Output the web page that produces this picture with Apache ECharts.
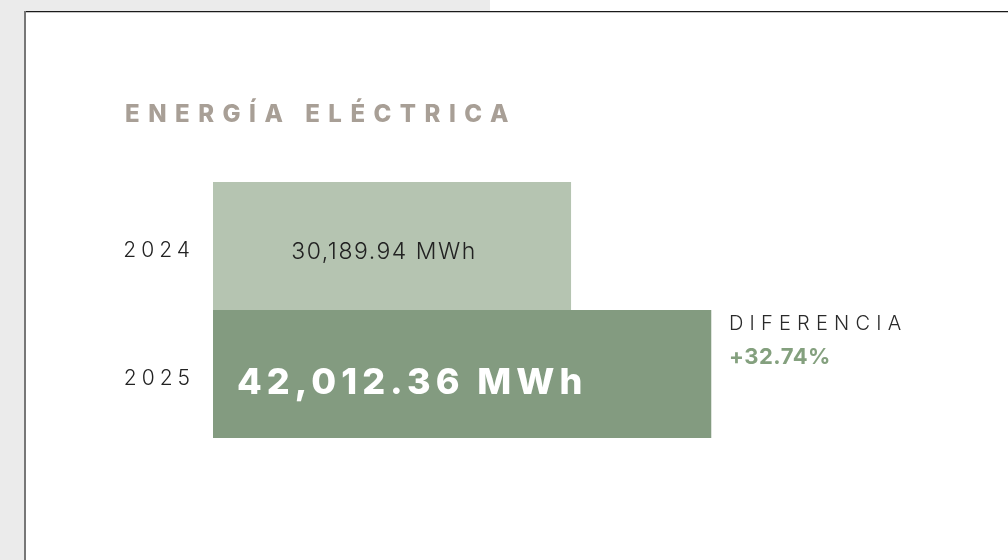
<!DOCTYPE html>
<html>
<head>
<meta charset="utf-8">
<script src="https://cdn.jsdelivr.net/npm/echarts@6/dist/echarts.min.js"></script>
<style>
html,body{margin:0;padding:0;background:#fff;}
#chart{width:1008px;height:560px;}
</style>
</head>
<body>
<div id="chart"></div>
<script>
// ---- data ----
const titleText = 'ENERGÍA ELÉCTRICA';
const categories = ['2024', '2025'];
const values = [30189.94, 42012.36];
const unit = 'MWh';
const diffTitle = 'DIFERENCIA';
const diffValue = '+32.74%';
const barColors = ['#b5c4b1', '#839b80'];

function fmt(v) {
  return v.toLocaleString('en-US', {minimumFractionDigits: 2, maximumFractionDigits: 2}) + ' ' + unit;
}

// letter spacing per text (canvas letterSpacing)
const SPACING = {};
SPACING[titleText] = 8.5;
categories.forEach(c => SPACING[c] = 5);
SPACING[diffTitle] = 6.2;
SPACING[fmt(values[0])] = 1.5;
SPACING[fmt(values[1])] = 5;
SPACING[diffValue] = 0.5;
const origFill = CanvasRenderingContext2D.prototype.fillText;
CanvasRenderingContext2D.prototype.fillText = function (t, x, y, w) {
  const s = SPACING[t];
  let prev;
  const has = s != null && ('letterSpacing' in this);
  if (has) { prev = this.letterSpacing; this.letterSpacing = s + 'px'; }
  const r = (w === undefined) ? origFill.call(this, t, x, y) : origFill.call(this, t, x, y, w);
  if (has) { this.letterSpacing = prev; }
  return r;
};

const FONT = 'Inter, "Noto Sans", sans-serif';
const chart = echarts.init(document.getElementById('chart'), null, {renderer: 'canvas'});

const option = {
  backgroundColor: '#ffffff',
  animation: false,
  graphic: [
    {type: 'rect', z: -10, shape: {x: 0, y: 0, width: 490, height: 11}, style: {fill: '#ebebeb'}},
    {type: 'rect', z: -10, shape: {x: 0, y: 0, width: 24, height: 560}, style: {fill: '#ebebeb'}},
    {type: 'rect', z: -9, shape: {x: 24, y: 11, width: 984, height: 1.2}, style: {fill: '#1a1a1a'}},
    {type: 'rect', z: -9, shape: {x: 24, y: 11, width: 2, height: 549}, style: {fill: '#777777'}},
    {type: 'text', left: 729, top: 314, style: {text: diffTitle, font: '300 20px ' + FONT, fill: '#2a2a2a'}},
    {type: 'text', left: 729, top: 346, style: {text: diffValue, font: '700 22px ' + FONT, fill: '#84a07e'}}
  ],
  title: {
    text: titleText,
    left: 120,
    top: 98,
    textStyle: {fontFamily: FONT, fontSize: 24, fontWeight: 800, color: '#a89f96'}
  },
  grid: {left: 213, top: 182, width: 593, height: 256, containLabel: false},
  xAxis: {type: 'value', min: 0, max: 50000, show: false},
  yAxis: {
    type: 'category',
    data: categories,
    inverse: true,
    axisLine: {show: false},
    axisTick: {show: false},
    splitLine: {show: false},
    axisLabel: {color: '#222', fontFamily: FONT, fontSize: 21, fontWeight: 300, margin: 18,
      verticalAlign: 'top', lineHeight: 10}
  },
  series: [{
    type: 'bar',
    barWidth: '100%',
    barCategoryGap: 0,
    data: values.map((v, i) => ({
      value: v,
      itemStyle: {color: barColors[i]},
      label: i === 0 ? {
        show: true, position: 'inside', formatter: () => fmt(v),
        color: '#222', fontFamily: FONT, fontSize: 23, fontWeight: 300, offset: [-8, 6]
      } : {
        show: true, position: 'insideLeft', distance: 24, formatter: () => fmt(v),
        color: '#ffffff', fontFamily: FONT, fontSize: 36, fontWeight: 800, offset: [0, 9]
      }
    }))
  }]
};
chart.setOption(option);
</script>
</body>
</html>
